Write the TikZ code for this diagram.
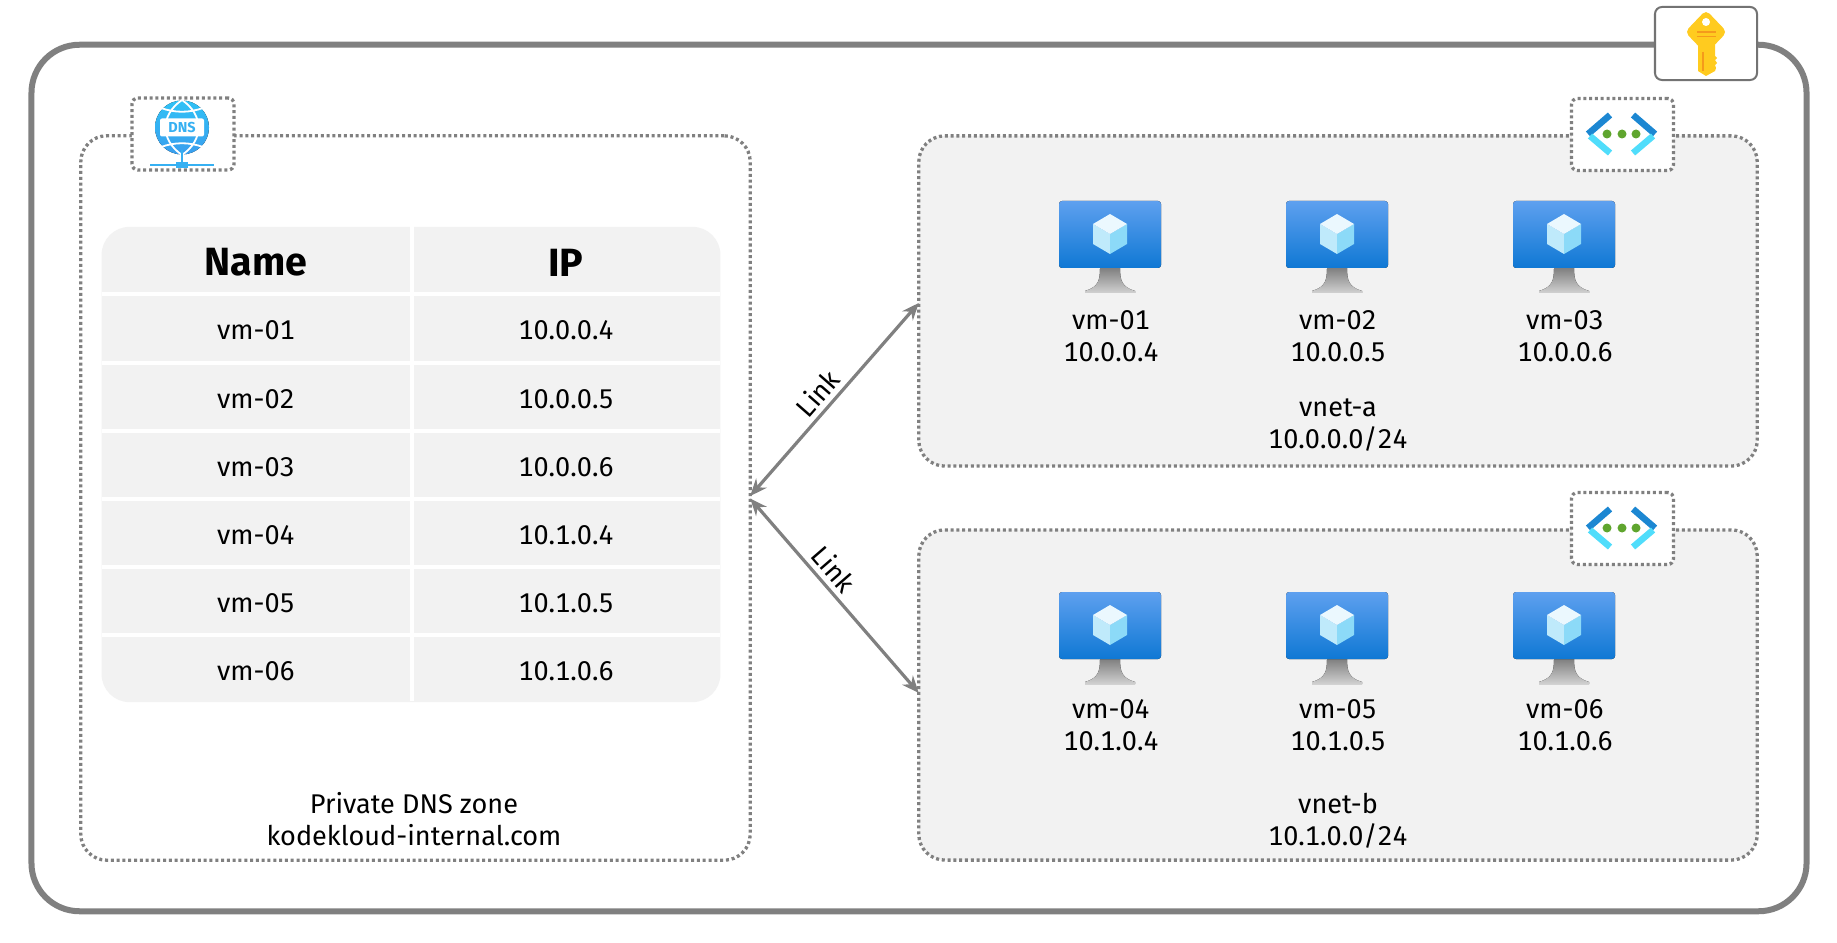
\documentclass[tikz,border=0pt]{standalone}
\usepackage{fontspec}
\usepackage{tikz}
\usetikzlibrary{arrows.meta}
\setmainfont[Numbers=Monospaced]{Fira Sans}
\definecolor{linegray}{HTML}{808080}
\definecolor{panelgray}{HTML}{F2F2F2}
\definecolor{dnsblue}{HTML}{36B0F2}
\definecolor{dnstop}{HTML}{2FC2F6}
\definecolor{dnsbottom}{HTML}{3A9EEE}
\definecolor{keyyellow}{HTML}{FFCB1F}
\definecolor{keyorange}{HTML}{F59A1B}
\definecolor{netdark}{HTML}{1C87D2}
\definecolor{netlight}{HTML}{50DDFB}
\definecolor{netgreen}{HTML}{5FA52E}
\definecolor{vmtop}{HTML}{5EA0EF}
\definecolor{vmbottom}{HTML}{0F78D4}
\tikzset{
  dotbox/.style={draw=linegray,line width=.033cm,dash pattern=on .03cm off .028cm,rounded corners=.26cm,outer sep=0pt,inner sep=0pt},
  iconbox/.style={dotbox,fill=white,rounded corners=.06cm,minimum width=1.02cm,minimum height=.72cm},
  tabletext/.style={font=\fontsize{7.7}{9.1}\selectfont,text=black,inner sep=0pt},
  headtext/.style={font=\fontsize{11.2}{13}\selectfont\bfseries,text=black,inner sep=0pt},
  gapline/.style={white,line width=.04cm},
  linkline/.style={linegray,line width=.032cm,{Stealth[length=.17cm,width=.14cm]}-{Stealth[length=.17cm,width=.14cm]}},
}
% one VM, origin at the middle of the top edge of the screen
\newcommand{\vmicon}[1]{
\begin{scope}[shift={(#1)}]
\fill[top color=black!50,bottom color=black!18] (-10,67) -- (10,67) .. controls (10,80) and (12,86) .. (25,90) -- (25,92) -- (-25,92) -- (-25,90) .. controls (-12,86) and (-10,80) .. (-10,67) -- cycle;
\fill[rounded corners=.03cm,top color=vmtop,bottom color=vmbottom] (-51,0) rectangle (51,67);
\fill[cyan!25] (-17,23) -- (0,33) -- (0,53) -- (-17,43) -- cycle;
\fill[cyan!45] (17,23) -- (0,33) -- (0,53) -- (17,43) -- cycle;
\fill[cyan!8] (0,13) -- (17,23) -- (0,33) -- (-17,23) -- cycle;
\end{scope}
}
% network icon, origin at the middle dot
\newcommand{\vneticon}[1]{
\begin{scope}[shift={(#1)}]
\draw[netdark,line width=.065cm] (-34,0) -- (-12,-19);
\draw[netlight,line width=.065cm] (-32,2) -- (-12,19);
\draw[netdark,line width=.065cm] (33,0) -- (11,-19);
\draw[netlight,line width=.065cm] (31,2) -- (11,19);
\fill[netgreen] (-15,0) circle (4.5);
\fill[netgreen] (0,0) circle (4.5);
\fill[netgreen] (14,0) circle (4.5);
\end{scope}
}
\begin{document}
\begin{tikzpicture}[x=.01cm,y=-.01cm]
\useasboundingbox (0,0) rectangle (1837,943);
\fill[white] (0,0) rectangle (1837,943);
% outer box
\node at (919,478) [draw=linegray,line width=.06cm,rounded corners=.48cm,minimum width=17.74cm,minimum height=8.66cm] (Outer) {};
\node at (1706,43.5) [draw=linegray!90!black,fill=white,line width=.02cm,rounded corners=.07cm,minimum width=1.02cm,minimum height=.73cm] (KeyBox) {};
\fill[keyyellow] (1698,45) -- (1715,45) -- (1715,56) -- (1717,58) -- (1715,60) -- (1717,63) -- (1715,65) -- (1716,68) -- (1715,71) -- (1706,76) -- (1698,71) -- cycle;
\fill[keyyellow,rounded corners=.05cm] (1706,10) -- (1727,32) -- (1706,54) -- (1685,32) -- cycle;
\fill[white] (1706,22) circle (4);
\draw[keyorange,line width=.012cm] (1697,32) -- (1716,32);
\draw[keyorange,line width=.012cm] (1697,36.5) -- (1716,36.5);
\draw[keyorange,line width=.02cm] (1703,52) -- (1703,71);
% panels
\node at (415.5,498) [dotbox,minimum width=6.69cm,minimum height=7.24cm] (DnsZone) {};
\node at (1338,301) [dotbox,fill=panelgray,minimum width=8.38cm,minimum height=3.3cm] (VnetA) {};
\node at (1338,695) [dotbox,fill=panelgray,minimum width=8.38cm,minimum height=3.3cm] (VnetB) {};
\node at (183,134) [iconbox] (DnsBox) {};
\node at (1622.5,134.5) [iconbox] (NetBoxA) {};
\node at (1622.5,528.5) [iconbox] (NetBoxB) {};
% dns icon
\fill[top color=dnstop,bottom color=dnsbottom] (182,127.5) circle (27);
\draw[white,line width=.018cm] (182,100) .. controls (160,115) and (160,140) .. (182,155);
\draw[white,line width=.018cm] (182,100) .. controls (204,115) and (204,140) .. (182,155);
\draw[white,line width=.018cm] (161,108) .. controls (175,113) and (189,113) .. (203,108);
\draw[white,line width=.018cm] (161,147) .. controls (175,142) and (189,142) .. (203,147);
\fill[white,rounded corners=.02cm] (160,118.5) rectangle (204,136.5);
\node at (182,127.5) [font=\fontsize{4.1}{5}\selectfont\bfseries,text=dnsblue,inner sep=0pt] (DnsText) {DNS};
\draw[dnsblue,line width=.025cm] (182,150) -- (182,165);
\draw[dnsblue,line width=.02cm] (150,165) -- (214,165);
\fill[dnsblue] (176,162) rectangle (188,168);
% table
\node at (411,464.5) [fill=panelgray,rounded corners=.28cm,minimum width=6.185cm,minimum height=4.75cm,inner sep=0pt] (Table) {};
\draw[gapline] (Table.north) ++(1,0) -- ++(0,475);
\draw[gapline] (102,294.5) -- (720,294.5);
\draw[gapline] (102,363) -- (720,363);
\draw[gapline] (102,431) -- (720,431);
\draw[gapline] (102,499) -- (720,499);
\draw[gapline] (102,567) -- (720,567);
\draw[gapline] (102,635) -- (720,635);
\node at (256,262.5) [headtext] (NameHead) {Name};
\node at (566,262.5) [headtext] (IpHead) {IP};
\node at (256,330) [tabletext] (Name1) {vm-01};
\node at (256,399) [tabletext] (Name2) {vm-02};
\node at (256,467) [tabletext] (Name3) {vm-03};
\node at (256,535) [tabletext] (Name4) {vm-04};
\node at (256,603) [tabletext] (Name5) {vm-05};
\node at (256,671) [tabletext] (Name6) {vm-06};
\node at (566,330) [tabletext] (Ip1) {10.0.0.4};
\node at (566,399) [tabletext] (Ip2) {10.0.0.5};
\node at (566,467) [tabletext] (Ip3) {10.0.0.6};
\node at (566,535) [tabletext] (Ip4) {10.1.0.4};
\node at (566,603) [tabletext] (Ip5) {10.1.0.5};
\node at (566,671) [tabletext] (Ip6) {10.1.0.6};
\node at (414,819) [tabletext,align=center] (DnsLabel) {Private DNS zone\\kodekloud-internal.com};
% network icons and vms
\vneticon{1622,134}
\vneticon{1622,528}
\vmicon{1110,201}
\vmicon{1337,201}
\vmicon{1564,201}
\vmicon{1110,592}
\vmicon{1337,592}
\vmicon{1564,592}
\node at (1111,336) [tabletext,align=center] (VmA1) {vm-01\\10.0.0.4};
\node at (1338,336) [tabletext,align=center] (VmA2) {vm-02\\10.0.0.5};
\node at (1565,336) [tabletext,align=center] (VmA3) {vm-03\\10.0.0.6};
\node at (1111,725) [tabletext,align=center] (VmB1) {vm-04\\10.1.0.4};
\node at (1338,725) [tabletext,align=center] (VmB2) {vm-05\\10.1.0.5};
\node at (1565,725) [tabletext,align=center] (VmB3) {vm-06\\10.1.0.6};
\node at (1338,425.5) [tabletext,align=center] (VnetALabel) {vnet-a\\10.0.0.0/24};
\node at (1338,820.5) [tabletext,align=center] (VnetBLabel) {vnet-b\\10.1.0.0/24};
% links
\draw[linkline] ([yshift=.02cm]DnsZone.east) -- node[pos=.475,sloped,above=.05cm,tabletext] (LinkA) {Link} ([yshift=-.02cm]VnetA.west);
\draw[linkline] ([yshift=-.005cm]DnsZone.east) -- node[pos=.42,sloped,above=.05cm,tabletext] (LinkB) {Link} ([yshift=.02cm]VnetB.west);
\end{tikzpicture}
\end{document}
